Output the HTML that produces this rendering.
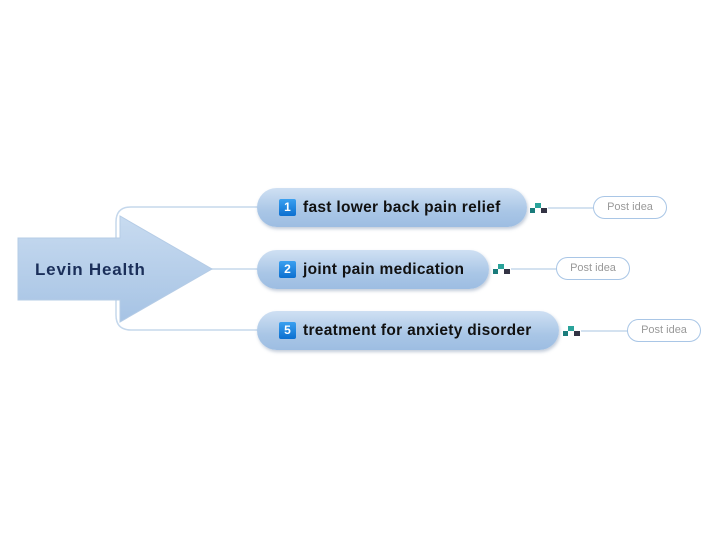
<!DOCTYPE html>
<html><head><style>
body{margin:0;background:#fff;width:720px;height:538px;position:relative;overflow:hidden;font-family:"Liberation Sans",sans-serif}
.n{position:absolute;left:257px;height:39px;border-radius:20px;background:linear-gradient(#cfe0f3,#a9c6e6 60%,#9dbde2);box-shadow:1px 2px 3px rgba(80,110,150,.35);font-weight:bold;font-size:15.5px;letter-spacing:0.3px;color:#111;line-height:39px;box-sizing:border-box;padding-left:22px}
.b{display:inline-block;width:17px;height:17px;background:linear-gradient(#3aa0f0,#0b6fd0);color:#fff;font-size:12px;line-height:17px;text-align:center;margin-right:7px;vertical-align:1px;border-radius:2px;letter-spacing:0}
.p{position:absolute;width:74px;height:23px;border:1.5px solid #a9c6e6;border-radius:12px;box-sizing:border-box;font-size:11px;color:#999;text-align:center;line-height:21px;background:#fff}
.ic{position:absolute;width:18px;height:12px}
</style></head><body>
<svg width="720" height="538" style="position:absolute;left:0;top:0">
<defs><linearGradient id="g" x1="0" y1="0" x2="0" y2="1"><stop offset="0" stop-color="#c8dbf0"/><stop offset="1" stop-color="#a6c3e4"/></linearGradient></defs>
<g fill="none" stroke="#c5d8ec" stroke-width="1.5">
<path d="M116 238 V222 Q116 207 131 207 H260"/>
<path d="M116 300 V315 Q116 330 131 330 H260"/>
<path d="M205 269 H260"/>
<path d="M548 208 H594"/><path d="M511 269 H557"/><path d="M581 331 H628"/>
</g>
<path d="M18 238 H120 V216 L212 269 L120 322 V300 H18 Z" fill="url(#g)" stroke="#b5cce6"/>
<text x="35" y="275" font-family="Liberation Sans,sans-serif" font-weight="bold" font-size="17" letter-spacing="0.8" fill="#1b2f5a">Levin Health</text>
</svg>
<div class="n" style="top:188px;width:270px"><span class="b">1</span>fast lower back pain relief</div>
<div class="n" style="top:250px;width:232px"><span class="b">2</span>joint pain medication</div>
<div class="n" style="top:311px;width:302px"><span class="b">5</span>treatment for anxiety disorder</div>
<svg class="ic" style="left:530px;top:202px" viewBox="0 0 18 12"><rect x="0" y="6" width="5" height="5" fill="#1a7b7b"/><rect x="5" y="1" width="6" height="5" fill="#2aa39a"/><rect x="11" y="6" width="6" height="5" fill="#334"/></svg>
<svg class="ic" style="left:493px;top:263px" viewBox="0 0 18 12"><rect x="0" y="6" width="5" height="5" fill="#1a7b7b"/><rect x="5" y="1" width="6" height="5" fill="#2aa39a"/><rect x="11" y="6" width="6" height="5" fill="#334"/></svg>
<svg class="ic" style="left:563px;top:325px" viewBox="0 0 18 12"><rect x="0" y="6" width="5" height="5" fill="#1a7b7b"/><rect x="5" y="1" width="6" height="5" fill="#2aa39a"/><rect x="11" y="6" width="6" height="5" fill="#334"/></svg>
<div class="p" style="left:593px;top:196px">Post idea</div>
<div class="p" style="left:556px;top:257px">Post idea</div>
<div class="p" style="left:627px;top:319px">Post idea</div>
</body></html>
